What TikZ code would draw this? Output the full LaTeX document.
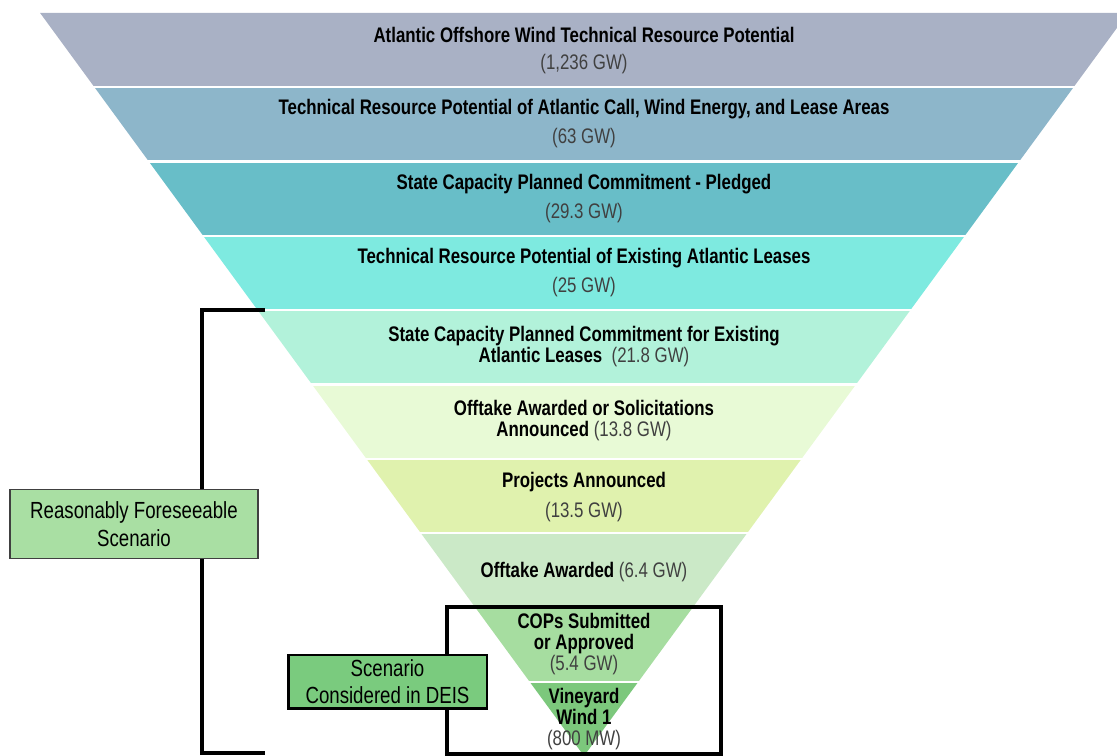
\documentclass[tikz,border=0pt]{standalone}
\usepackage{fontspec}
\setmainfont{Liberation Sans}[FakeStretch=0.8]
\definecolor{bandA}{HTML}{A9B1C5}
\definecolor{bandB}{HTML}{8DB6CA}
\definecolor{bandC}{HTML}{68BEC8}
\definecolor{bandD}{HTML}{7EEAE0}
\definecolor{bandE}{HTML}{B2F2DA}
\definecolor{bandF}{HTML}{E8FAD6}
\definecolor{bandG}{HTML}{E0F2AE}
\definecolor{bandH}{HTML}{CBE9C7}
\definecolor{bandI}{HTML}{A6DDA0}
\definecolor{bandJ}{HTML}{7CC87C}
\definecolor{valgray}{HTML}{404040}
\definecolor{rfsgreen}{HTML}{A9DFA3}
\definecolor{deisgreen}{HTML}{7ACB7E}
\begin{document}
\begin{tikzpicture}[x=0.75pt,y=-0.75pt]
        \useasboundingbox (0,0) rectangle (1117,756);
        \clip (0,0) rectangle (1117,756);
        \begin{scope}
            \tikzset{sep/.style = {
                draw=white,
                line width=1.8pt } }
            \tikzset{ttl/.style = {
                font=\fontsize{15.8}{15.8}\selectfont\bfseries,
                align=center,
                inner sep=0pt } }
            \tikzset{val/.style = {
                font=\fontsize{15.8}{15.8}\selectfont,
                text=valgray,
                inner sep=0pt } }
                \foreach \c [count=\k from 0] in {bandA,bandB,bandC,bandD,bandE,bandF,bandG,bandH,bandI,bandJ}{
                    \pgfmathsetmacro{\yt}{13+74.3*\k}
                    \pgfmathsetmacro{\yb}{13+74.3*(\k+1)}
                    \pgfmathsetmacro{\wt}{(756-\yt)*0.732}
                    \pgfmathsetmacro{\wb}{(756-\yb)*0.732}
                    \fill[\c] (584-\wt,\yt) -- (584+\wt,\yt) -- (584+\wb,\yb) -- (584-\wb,\yb) -- cycle;
                }
                \foreach \k in {1,...,9}{
                    \pgfmathsetmacro{\ys}{13+74.3*\k}
                    \pgfmathsetmacro{\ws}{(756-\ys)*0.732+4}
                    \path[sep] (584-\ws,\ys) -- (584+\ws,\ys);
                }
                % band labels
                \node[ttl] (t0) at (584,35) {Atlantic Offshore Wind Technical Resource Potential};
                \node[val] (v0) at (584,64) {(1,236 GW)};
                \node[ttl] (t1) at (584,109) {Technical Resource Potential of Atlantic Call, Wind Energy, and Lease Areas};
                \node[val] (v1) at (584,138) {(63 GW)};
                \node[ttl] (t2) at (584,184) {State Capacity Planned Commitment - Pledged};
                \node[val] (v2) at (584,213) {(29.3 GW)};
                \node[ttl] (t3) at (584,258) {Technical Resource Potential of Existing Atlantic Leases};
                \node[val] (v3) at (584,287) {(25 GW)};
                \node[ttl] (t4) at (584,347) {State Capacity Planned Commitment for Existing\\Atlantic Leases\ \ {\mdseries\color{valgray}(21.8 GW)}};
                \node[ttl] (t5) at (584,421) {Offtake Awarded or Solicitations\\Announced {\mdseries\color{valgray}(13.8 GW)}};
                \node[ttl] (t6) at (584,482) {Projects Announced};
                \node[val] (v6) at (584,512) {(13.5 GW)};
                \node[ttl] (t7) at (584,572) {Offtake Awarded {\mdseries\color{valgray}(6.4 GW)}};
                \node[ttl] (t8) at (584,644) {COPs Submitted\\or Approved\\{\mdseries\color{valgray}(5.4 GW)}};
                \node[ttl] (t9) at (584,719) {Vineyard\\Wind 1\\{\mdseries\color{valgray}(800 MW)}};
        \end{scope}
        \begin{scope}
            \tikzset{brk/.style = {
                draw=black,
                line width=2.3pt } }
            \tikzset{scbox/.style = {
                draw,
                rectangle,
                align=center,
                font=\fontsize{17.5}{20.5}\selectfont,
                inner sep=0pt } }
                \coordinate (obt) at (265,310);
                \coordinate (obb) at (265,753);
                \coordinate (ibl) at (447,754);
                \coordinate (itr) at (721,607);
                \path[brk] (obt) -- ++(-63,0) |- (obb);
                \path[brk] (ibl) rectangle (itr);
                \node[scbox, fill=rfsgreen, draw=black!75, line width=1.2pt,
                    minimum width=186pt, minimum height=52pt] (rfs) at (134,524) {Reasonably Foreseeable\\Scenario};
                \node[scbox, fill=deisgreen, line width=2pt,
                    minimum width=149pt, minimum height=40pt] (deis) at (387.5,681.5) {Scenario\\Considered in DEIS};
        \end{scope}
    \end{tikzpicture}
\end{document}
